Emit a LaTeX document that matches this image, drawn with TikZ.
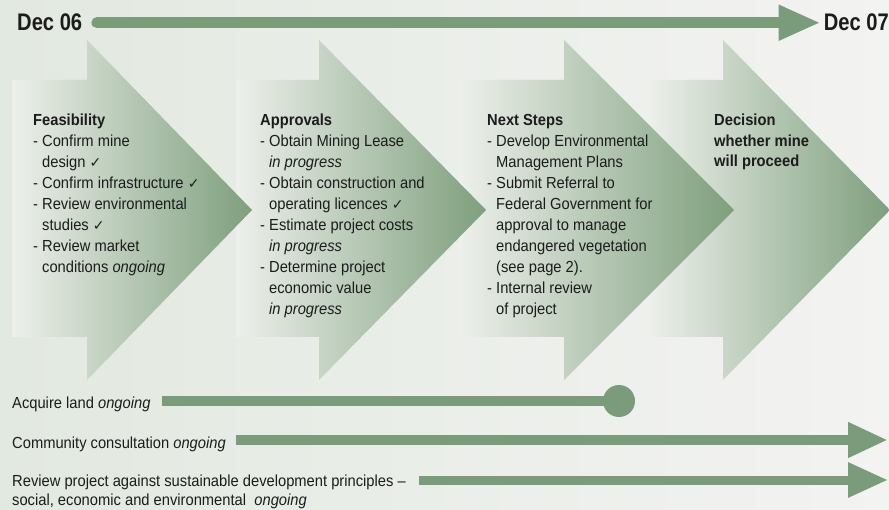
\documentclass[tikz,border=0pt]{standalone}
\usepackage{fontspec}
\setmainfont[FakeStretch=0.92]{Liberation Sans}
\newfontfamily\datefont[FakeStretch=0.84]{Liberation Sans}
\newfontfamily\tickfont{DejaVu Sans}
\usetikzlibrary{arrows.meta}

\definecolor{bgleft}{HTML}{E2E9E0}
\definecolor{bgright}{HTML}{F3F3F2}
\definecolor{chevlight}{HTML}{EDF0EB}
\definecolor{chevdark}{HTML}{7E9F7D}
\definecolor{bargreen}{HTML}{7A9C7A}
\definecolor{inkgray}{HTML}{1C1C1C}

\newcommand{\tick}{{\tickfont\fontsize{14}{14}\selectfont ✓}}
\newcommand{\cont}{\hphantom{- }}

\begin{document}
\begin{tikzpicture}[
            x=1pt, y=-1pt,
            chevron/.style={left color=chevlight, right color=chevdark},
            bar/.style={draw=bargreen, line width=10pt},
            headtip/.style={-{Triangle[length=40pt,width=33pt]}},
            block/.style={anchor=north west, inner sep=0pt, align=left, text=inkgray,
                    font=\fontsize{16}{21}\selectfont},
            line/.style={anchor=base west, inner sep=0pt, text=inkgray,
                    font=\fontsize{16}{19}\selectfont},
            date/.style={inner sep=0pt, text=inkgray,
                    font=\datefont\bfseries\fontsize{24}{24}\selectfont}
        ]
        \useasboundingbox (0,0) rectangle (889,510);
        \shade[left color=bgleft, right color=bgright] (0,0) rectangle (889,510);

        % chevrons, last one first
        \shade[chevron] (648,80) -- (723,80) -- (723,40) -- (890,210) -- (723,380) -- (723,337) -- (648,337) -- cycle;
        \shade[chevron] (459,80) -- (564,80) -- (564,40) -- (734,210) -- (564,380) -- (564,337) -- (459,337) -- cycle;
        \shade[chevron] (236,80) -- (319,80) -- (319,40) -- (486,210) -- (319,380) -- (319,337) -- (236,337) -- cycle;
        \shade[chevron] (12,80) -- (87,80) -- (87,40) -- (252,210) -- (87,380) -- (87,337) -- (12,337) -- cycle;

        % time line
        \node[date, anchor=base west] (dec06) at (17,31) {Dec 06};
        \node[date, anchor=base east] (dec07) at (889,31) {Dec 07};
        \draw[draw=bargreen, line width=11pt, line cap=round, -{Triangle[length=42pt,width=33pt]}]
            ([xshift=14.5pt]dec06.east) -- ([xshift=-3pt]dec07.west);

        \node[block] (feasibility) at (33,114) {\textbf{Feasibility}\\
            - Confirm mine\\
            \cont design \tick\\
            - Confirm infrastructure \tick\\
            - Review environmental\\
            \cont studies \tick\\
            - Review market\\
            \cont conditions \textit{ongoing}};
        \node[block] (approvals) at (260,114) {\textbf{Approvals}\\
            - Obtain Mining Lease\\
            \cont\textit{in progress}\\
            - Obtain construction and\\
            \cont operating licences \tick\\
            - Estimate project costs\\
            \cont\textit{in progress}\\
            - Determine project\\
            \cont economic value\\
            \cont\textit{in progress}};
        \node[block] (nextsteps) at (487,114) {\textbf{Next Steps}\\
            - Develop Environmental\\
            \cont Management Plans\\
            - Submit Referral to\\
            \cont Federal Government for\\
            \cont approval to manage\\
            \cont endangered vegetation\\
            \cont (see page 2).\\
            - Internal review\\
            \cont of project};
        \node[block, font=\bfseries\fontsize{16}{20.5}\selectfont] (decision) at (714,114) {Decision\\
            whether mine\\
            will proceed};

        % ongoing activities
        \node[line] (acquire) at (12,409) {Acquire land \textit{ongoing}};
        \node[line] (community) at (12,448) {Community consultation \textit{ongoing}};
        \node[block, font=\fontsize{16}{19}\selectfont] (review) at (12,474.3) {Review project against sustainable development principles --\\
            social, economic and environmental\ \ \textit{ongoing}};

        \node[circle, fill=bargreen, minimum size=32pt, inner sep=0pt] (landend) at (619,401) {};
        \coordinate (commtip) at (888,440);
        \coordinate (reviewtip) at (888,480);
        \draw[bar] ([xshift=11pt]acquire.east |- landend.center) -- (landend.center);
        \draw[bar, headtip] ([xshift=10pt]community.east |- commtip) -- (commtip);
        \draw[bar, line width=9pt, headtip] (419,480) -- (reviewtip);
    \end{tikzpicture}
\end{document}
